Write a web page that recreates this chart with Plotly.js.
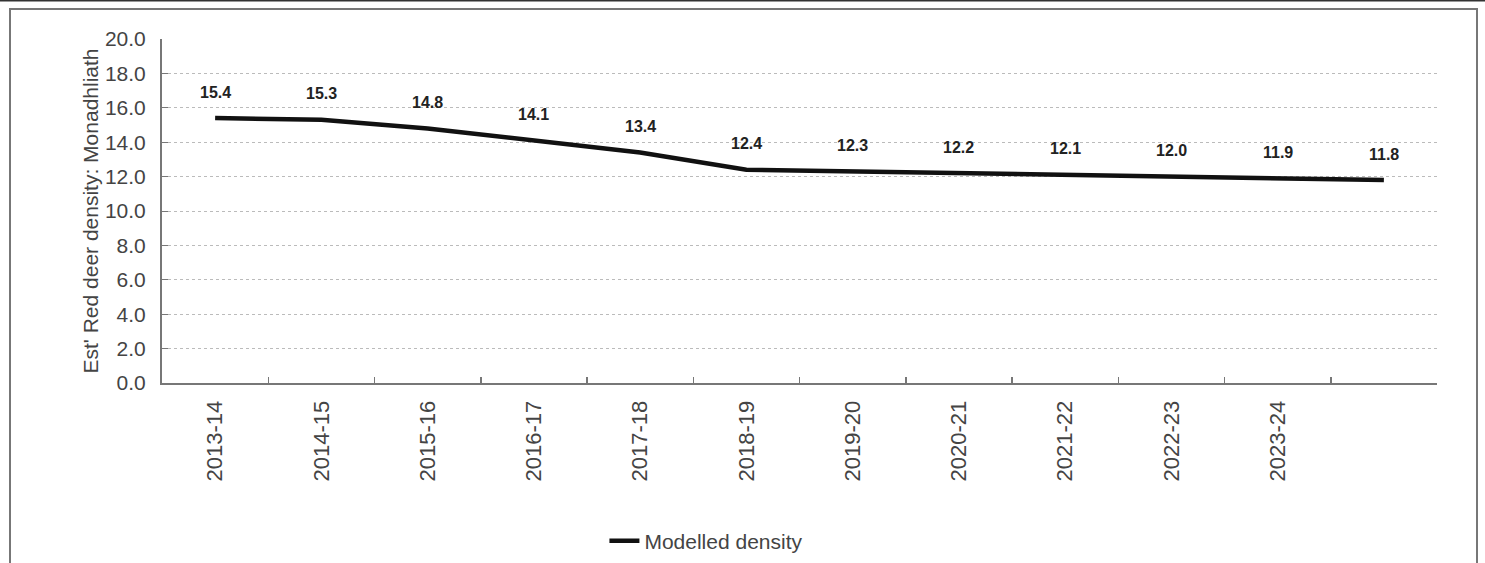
<!DOCTYPE html>
<html>
<head>
<meta charset="utf-8">
<script src="https://cdn.plot.ly/plotly-3.0.1.min.js"></script>
<style>html,body{margin:0;padding:0;background:#fff;}#chart{width:1485px;height:563px;}</style>
</head>
<body>
<div id="chart"></div>
<script>
// Seasons (the 12th point has no printed label in the source)
const categories = ['2013-14','2014-15','2015-16','2016-17','2017-18','2018-19','2019-20','2020-21','2021-22','2022-23','2023-24',' '];
const modelledDensity = [15.4, 15.3, 14.8, 14.1, 13.4, 12.4, 12.3, 12.2, 12.1, 12.0, 11.9, 11.8];
const seriesName = 'Modelled density';
const yTitle = "Est' Red deer density: Monadhliath";

const FONT = '"Liberation Sans", Arial, sans-serif';

const trace = {
  x: categories,
  y: modelledDensity,
  type: 'scatter',
  mode: 'lines',
  name: seriesName,
  line: {color: '#111111', width: 4.5},
  hoverinfo: 'x+y'
};

const annotations = categories.map((c, i) => ({
  x: c, y: modelledDensity[i], xref: 'x', yref: 'y',
  text: modelledDensity[i].toFixed(1),
  showarrow: false, yshift: 26,
  font: {family: FONT, size: 16, color: '#222', weight: 'bold'}
}));

const layout = {
  width: 1485, height: 563,
  margin: {l: 162, r: 48, t: 39, b: 180},
  paper_bgcolor: '#fff', plot_bgcolor: '#fff',
  font: {family: FONT, color: '#444'},
  showlegend: true,
  legend: {
    orientation: 'h', xref: 'paper', yref: 'container',
    x: 0.347, y: 0.039, xanchor: 'left', yanchor: 'middle',
    font: {family: FONT, size: 21, color: '#444'}, bgcolor: 'rgba(0,0,0,0)'
  },
  xaxis: {
    type: 'category',
    range: [-0.5, 11.5],
    tickson: 'boundaries',
    ticks: 'inside', ticklen: 6, tickcolor: '#777', tickwidth: 1.5,
    tickangle: -90,
    tickfont: {family: FONT, size: 22, color: '#444'},
    ticklabelstandoff: 7,
    showgrid: false,
    showline: true, linecolor: '#777', linewidth: 2,
    zeroline: false, fixedrange: true
  },
  yaxis: {
    range: [0, 20],
    tickvals: [0, 2, 4, 6, 8, 10, 12, 14, 16, 18, 20],
    tickformat: '.1f',
    ticks: 'inside', ticklen: 6, tickcolor: '#777',
    tickfont: {family: FONT, size: 21, color: '#444'},
    ticklabelstandoff: 10,
    showgrid: true, gridcolor: '#bbb', griddash: 'dot', gridwidth: 1,
    showline: true, linecolor: '#777', linewidth: 2,
    zeroline: false, fixedrange: true,
    title: {text: yTitle, font: {family: FONT, size: 21, color: '#444'}, standoff: 1}
  },
  annotations: annotations,
  shapes: [
    {type: 'rect', xref: 'paper', yref: 'paper',
     x0: (10 - 162) / 1275, x1: (1477 - 162) / 1275,
     y0: (383 - 600) / 344, y1: (383 - 9) / 344,
     line: {color: '#777', width: 2}, fillcolor: 'rgba(0,0,0,0)'},
    {type: 'line', xref: 'paper', yref: 'paper',
     x0: -0.2, x1: 1.1, y0: (383 - 0.5) / 344, y1: (383 - 0.5) / 344,
     line: {color: '#333', width: 2}}
  ]
};

Plotly.newPlot('chart', [trace], layout, {displayModeBar: false, staticPlot: true});
</script>
</body>
</html>
